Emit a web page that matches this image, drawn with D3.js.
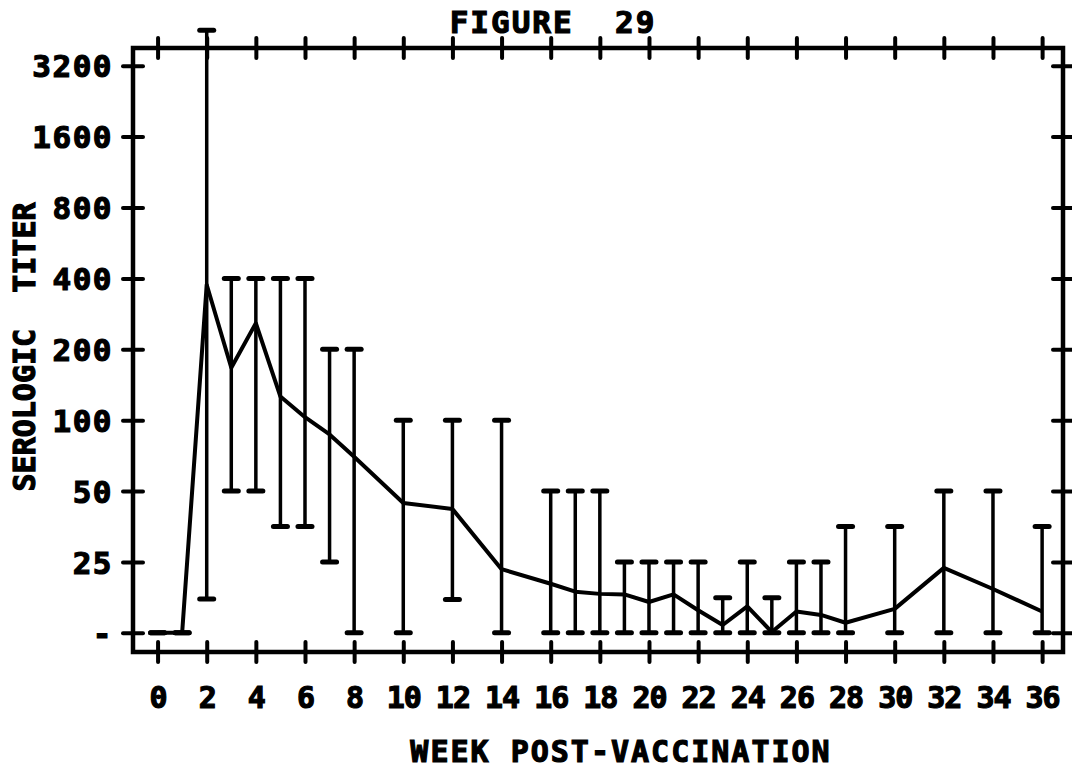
<!DOCTYPE html>
<html>
<head>
<meta charset="utf-8">
<script src="https://cdn.jsdelivr.net/npm/d3@7"></script>
<style>
  html, body { margin: 0; padding: 0; background: #fff; }
  svg text { font-family: "DejaVu Sans Mono", monospace; font-weight: bold; fill: #000; stroke: #000; stroke-width: 1.2px; }
</style>
</head>
<body>
<svg id="chart" width="1072" height="769"></svg>
<script>
// --- Data (titer values; 12.5 = the "-" level, below 25)
const weeks = [0, 1, 2, 3, 4, 5, 6, 7, 8, 10, 12, 14, 16, 17, 18, 19, 20, 21, 22, 23, 24, 25, 26, 27, 28, 30, 32, 34, 36];
const meanTiter = [12.5, 12.5, 376, 167, 258, 126, 103, 87, 70, 44.5, 42, 23.3, 20.2, 18.7, 18.3, 18.2, 16.9, 18.2, 15.6, 13.5, 16.2, 12.6, 15.4, 14.9, 13.8, 15.8, 23.6, 19.2, 15.4];
const highTiter = [12.5, 12.5, 4525, 400, 400, 400, 400, 200, 200, 100, 100, 100, 50, 50, 50, 25, 25, 25, 25, 17.6, 25, 17.6, 25, 25, 35.4, 35.4, 50, 50, 35.4];
const lowTiter  = [12.5, 12.5, 17.4, 50, 50, 35.4, 35.4, 25, 12.5, 12.5, 17.3, 12.5, 12.5, 12.5, 12.5, 12.5, 12.5, 12.5, 12.5, 12.5, 12.5, 12.5, 12.5, 12.5, 12.5, 12.5, 12.5, 12.5, 12.5];

const yTickValues = [12.5, 25, 50, 100, 200, 400, 800, 1600, 3200];
const yTickLabels = ['-', '25', '50', '100', '200', '400', '800', '1600', '3200'];
const xTickValues = d3.range(0, 37, 2);

const svg = d3.select('#chart');
const L = 133, R = 1063, T = 48, B = 652;

// --- Scales
const x = d3.scaleLinear().domain([-1, 36.85]).range([L, R]);
const y = d3.scaleLog().base(2).domain([12.5 * Math.pow(2, -0.27), 12.5 * Math.pow(2, 8.25)]).range([B, T]);

// --- Axes (ticks crossing the frame)
const tick = 10;
const axisStyle = g => {
  g.select('.domain').remove();
  g.selectAll('.tick line').attr('stroke', '#000').attr('stroke-width', 4).attr('stroke-linecap', 'round');
};
svg.append('g').attr('transform', `translate(0,${B})`)
  .call(d3.axisBottom(x).tickValues(xTickValues).tickSize(tick).tickFormat(d => d).tickPadding(28))
  .call(axisStyle)
  .call(g => g.selectAll('.tick line').attr('y1', -tick))
  .call(g => g.selectAll('.tick text').attr('font-size', 30).attr('letter-spacing', -1).attr('dy', '0.6em')
    .style('font-family', '"DejaVu Sans Mono", monospace').style('font-weight', 'bold'));
svg.append('g').attr('transform', `translate(0,${T})`)
  .call(d3.axisTop(x).tickValues(xTickValues).tickSize(tick).tickFormat(''))
  .call(axisStyle)
  .call(g => g.selectAll('.tick line').attr('y1', tick));
svg.append('g').attr('transform', `translate(${L},0)`)
  .call(d3.axisLeft(y).tickValues(yTickValues).tickSize(tick).tickPadding(10).tickFormat((d, i) => yTickLabels[i]))
  .call(axisStyle)
  .call(g => g.selectAll('.tick line').attr('x1', tick))
  .call(g => g.selectAll('.tick text').attr('font-size', 31).attr('letter-spacing', 1.5).attr('dy', '0.36em')
    .style('font-family', '"DejaVu Sans Mono", monospace').style('font-weight', 'bold'));
svg.append('g').attr('transform', `translate(${R},0)`)
  .call(d3.axisRight(y).tickValues(yTickValues).tickSize(tick).tickFormat(''))
  .call(axisStyle)
  .call(g => g.selectAll('.tick line').attr('x1', -tick));

// frame
svg.append('rect').attr('x', L).attr('y', T).attr('width', R - L).attr('height', B - T)
  .attr('fill', 'none').attr('stroke', '#000').attr('stroke-width', 4.5);

// --- Error bars
const rows = weeks.map((w, i) => ({ w, m: meanTiter[i], hi: highTiter[i], lo: lowTiter[i] }));
const eb = svg.append('g').attr('stroke', '#000').attr('stroke-linecap', 'round');
eb.selectAll('line.v').data(rows).join('line').attr('class', 'v')
  .attr('x1', d => x(d.w)).attr('x2', d => x(d.w))
  .attr('y1', d => y(d.hi)).attr('y2', d => y(d.lo)).attr('stroke-width', 3.5);
eb.selectAll('line.hi').data(rows).join('line').attr('class', 'hi')
  .attr('x1', d => x(d.w) - 7).attr('x2', d => x(d.w) + 7)
  .attr('y1', d => y(d.hi)).attr('y2', d => y(d.hi)).attr('stroke-width', 5);
eb.selectAll('line.lo').data(rows).join('line').attr('class', 'lo')
  .attr('x1', d => x(d.w) - 7).attr('x2', d => x(d.w) + 7)
  .attr('y1', d => y(d.lo)).attr('y2', d => y(d.lo)).attr('stroke-width', 5);

// --- Mean line
svg.append('path').datum(rows)
  .attr('fill', 'none').attr('stroke', '#000').attr('stroke-width', 4).attr('stroke-linejoin', 'round')
  .attr('d', d3.line().x(d => x(d.w)).y(d => y(d.m)));

// --- Titles
svg.append('text').attr('x', 553).attr('y', 33).attr('text-anchor', 'middle')
  .attr('font-size', 31).attr('letter-spacing', 2).attr('xml:space', 'preserve').text('FIGURE  29');
svg.append('text').attr('transform', 'translate(35,347) rotate(-90)').attr('text-anchor', 'middle')
  .attr('font-size', 30).attr('letter-spacing', 0).attr('xml:space', 'preserve').text('SEROLOGIC  TITER');
svg.append('text').attr('x', 621).attr('y', 762).attr('text-anchor', 'middle')
  .attr('font-size', 30).attr('letter-spacing', 2).text('WEEK POST-VACCINATION');
</script>
</body>
</html>
